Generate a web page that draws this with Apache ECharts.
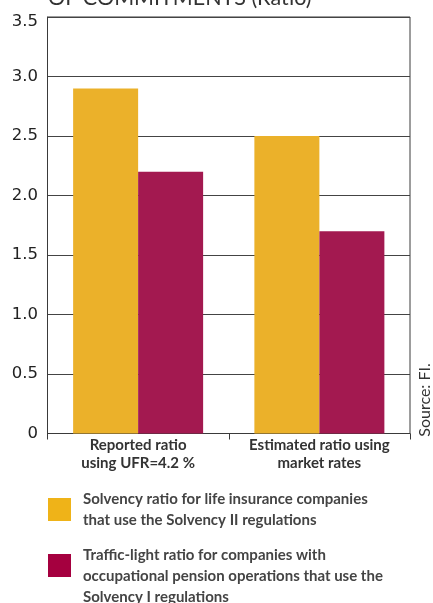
<!DOCTYPE html>
<html>
<head>
<meta charset="utf-8">
<script src="https://cdn.jsdelivr.net/npm/echarts@6/dist/echarts.min.js"></script>
<style>
  html, body { margin: 0; padding: 0; background: #fff; }
  #chart { width: 433px; height: 603px; }
</style>
</head>
<body>
<div id="chart"></div>
<script>
// Categories along the x axis
const categories = ['Reported ratio\nusing UFR=4.2 %', 'Estimated ratio using\nmarket rates'];
// Series values
const solvencyIIRatio = [2.9, 2.5];
const trafficLightRatio = [2.2, 1.7];
// Series names shown in the legend
const seriesNames = [
  'Solvency ratio for life insurance companies\nthat use the Solvency II regulations',
  'Traffic-light ratio for companies with\noccupational pension operations that use the\nSolvency I regulations'
];
// Value axis range
const yMin = 0, yMax = 3.5, yStep = 0.5;

const textFont = 'Lato, "Open Sans", sans-serif';
const numFont = '"DejaVu Sans", Verdana, sans-serif';
const YELLOW = '#ebb12a';
const PURPLE = '#a31950';

const chart = echarts.init(document.getElementById('chart'), null, { renderer: 'canvas' });

const numStyle = { color: '#222', fontFamily: numFont, fontSize: 16.5 };

chart.setOption({
  animation: false,
  backgroundColor: '#fff',
  grid: {
    left: 47.5, right: 23, top: 17, bottom: 169.5,
    show: true, borderColor: '#3a3a3a', borderWidth: 1, backgroundColor: 'transparent'
  },
  xAxis: {
    type: 'category',
    data: categories,
    axisLine: { show: true, lineStyle: { color: '#3a3a3a', width: 1 } },
    axisTick: { show: true, length: 6, lineStyle: { color: '#3a3a3a' } },
    axisLabel: {
      interval: 0,
      margin: 3,
      color: '#333',
      fontFamily: textFont,
      fontWeight: 'bold',
      fontSize: 15,
      lineHeight: 18
    }
  },
  yAxis: {
    type: 'value',
    min: yMin, max: yMax, interval: yStep,
    axisLine: { show: true, lineStyle: { color: '#3a3a3a', width: 1 } },
    axisTick: { show: false },
    splitLine: { show: true, lineStyle: { color: '#444', width: 1 } },
    axisLabel: {
      margin: 9.5,
      color: '#222',
      fontFamily: numFont,
      fontSize: 16.5,
      // the top label sits a little below its grid line
      formatter: v => (v === yMax ? '{s| }\n{n|' + v.toFixed(1) + '}'
                                  : (v === 0 ? '0' : v.toFixed(1))),
      rich: {
        s: { fontSize: 1, lineHeight: 10 },
        n: Object.assign({ lineHeight: 20 }, numStyle)
      }
    }
  },
  legend: {
    orient: 'vertical',
    left: 48,
    top: 488.5,
    width: 380,
    height: 300,
    padding: 0,
    itemGap: -7,
    itemWidth: 23,
    itemHeight: 23,
    icon: 'rect',
    selectedMode: false,
    // the icon lines up with the first two lines of each entry
    formatter: name => (name === seriesNames[1] ? '\n' + name : name),
    textStyle: {
      color: '#444',
      fontFamily: textFont,
      fontWeight: 'bold',
      fontSize: 15,
      lineHeight: 21,
      padding: [0, 0, 0, 7]
    },
    data: [
      { name: seriesNames[0], itemStyle: { color: '#efb318' } },
      { name: seriesNames[1], itemStyle: { color: '#a5003f' } }
    ]
  },
  series: [
    {
      name: seriesNames[0],
      type: 'bar',
      data: solvencyIIRatio,
      barWidth: 65,
      barGap: '0%',
      itemStyle: { color: YELLOW }
    },
    {
      name: seriesNames[1],
      type: 'bar',
      data: trafficLightRatio,
      barWidth: 65,
      itemStyle: { color: PURPLE }
    }
  ],
  graphic: [
    {
      type: 'text',
      left: 48,
      top: -13,
      style: {
        text: 'OF COMMITMENTS (Ratio)',
        fill: '#333',
        font: '21.5px ' + textFont
      }
    },
    {
      type: 'text',
      x: 425,
      y: 400,
      rotation: Math.PI / 2,
      style: {
        text: 'Source: FI.',
        fill: '#333',
        font: '16px ' + textFont,
        align: 'center',
        verticalAlign: 'middle'
      }
    }
  ]
});
</script>
</body>
</html>
